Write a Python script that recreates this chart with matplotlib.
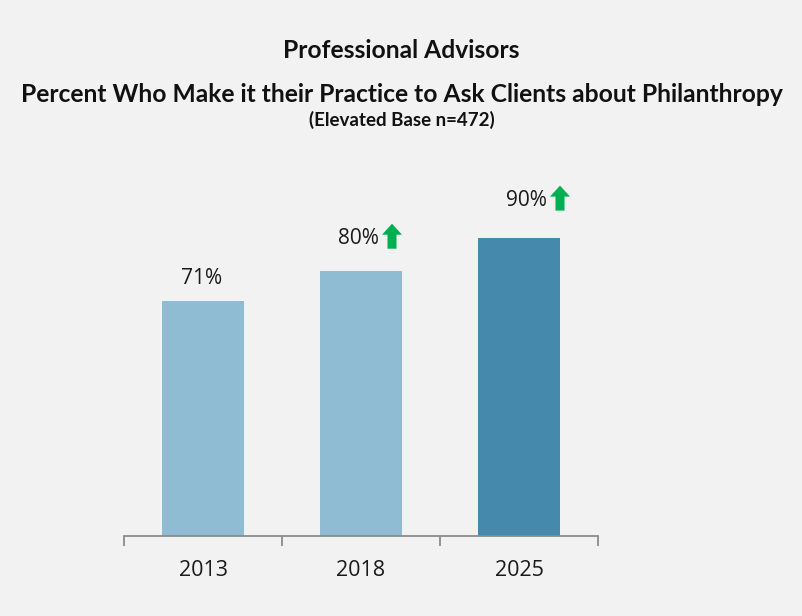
import matplotlib
matplotlib.use("Agg")
import matplotlib.pyplot as plt
from matplotlib.patches import Polygon
from matplotlib.transforms import offset_copy

# Survey results
years = ["2013", "2018", "2025"]
percents = [71, 80, 90]
significant_increase = [False, True, True]

title_lines = [
    "Professional Advisors",
    "Percent Who Make it their Practice to Ask Clients about Philanthropy",
    "(Elevated Base n=472)",
]

BG = "#f1f2f1"
LIGHT = "#8fbbd3"
DARK = "#458aad"
GREEN = "#00b050"
TEXT = "#1a1a1a"

fig = plt.figure(figsize=(8.03, 6.16), dpi=100, facecolor=BG)
ax = fig.add_axes([124 / 803, 80 / 616, 474 / 803, 331 / 616], facecolor=BG)

xs = list(range(len(years)))
colors = [LIGHT] * (len(years) - 1) + [DARK]
ax.bar(xs, percents, width=0.525, color=colors, zorder=2)

ax.set_xlim(-0.5, len(years) - 0.5)
ax.set_ylim(0, 100)
ax.set_yticks([])
for side in ("top", "right", "left"):
    ax.spines[side].set_visible(False)
ax.spines["bottom"].set_color("#8c8c8c")
ax.spines["bottom"].set_linewidth(1.3)

# category separators as downward ticks on the baseline
ax.set_xticks([x - 0.5 for x in xs] + [xs[-1] + 0.5], minor=True)
ax.tick_params(axis="x", which="minor", direction="out", length=7,
               width=1.3, color="#8c8c8c")
ax.set_xticks(xs)
ax.set_xticklabels(years, fontfamily="Open Sans", fontsize=15.5, color=TEXT)
ax.tick_params(axis="x", which="major", length=0, pad=17)

# value labels (pixel offsets from each bar top)
label_offsets = [(-1, 22), (-3, 33), (7, 38)]
px = 72 / fig.dpi

# up-arrow outline in pixels, centred on (0, 0)
w, hw, h, hh = 10, 4.5, 25, 11
arrow_pts = [(-hw, -h / 2), (hw, -h / 2), (hw, h / 2 - hh), (w, h / 2 - hh),
             (0, h / 2), (-w, h / 2 - hh), (-hw, h / 2 - hh)]

for x, v, up, (dx, dy) in zip(xs, percents, significant_increase, label_offsets):
    tr = offset_copy(ax.transData, fig=fig, x=dx * px, y=dy * px, units="points")
    ax.text(x, v, f"{v}%", transform=tr, ha="center", va="center",
            fontfamily="Open Sans", fontsize=15, color=TEXT, clip_on=False)
    if up:
        # green up-arrow just right of the label
        atr = offset_copy(ax.transData, fig=fig, x=(dx + 34) * px,
                          y=(dy + 2) * px, units="points")
        cx, cy = atr.transform((x, v))
        fig.patches.append(Polygon([(cx + ox, cy + oy) for ox, oy in arrow_pts],
                                   closed=True, facecolor=GREEN,
                                   edgecolor="none", transform=None, zorder=3))

# titles
fig.text(0.5, 1 - 50 / 616, title_lines[0], ha="center", va="center",
         fontfamily="Lato", fontweight="bold", fontsize=17.7, color="#111111")
fig.text(0.5, 1 - 95 / 616, title_lines[1], ha="center", va="center",
         fontfamily="Lato", fontweight="bold", fontsize=17.7, color="#111111")
fig.text(0.5, 1 - 120 / 616, title_lines[2], ha="center", va="center",
         fontfamily="Lato", fontweight="bold", fontsize=13.5, color="#111111")

fig.savefig("out.png", dpi=100, facecolor=BG)
